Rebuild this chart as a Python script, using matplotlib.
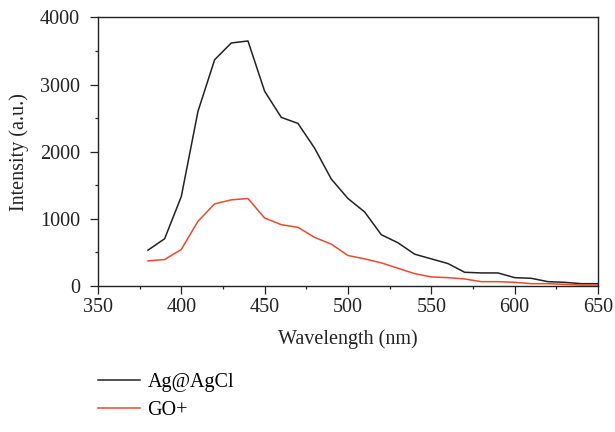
import matplotlib
matplotlib.use('Agg')
import matplotlib.pyplot as plt
from matplotlib.ticker import MultipleLocator

# wavelength (nm)
wavelength = [380, 390, 400, 410, 420, 430, 440, 450, 460, 470, 480, 490, 500,
              510, 520, 530, 540, 550, 560, 570, 580, 590, 600, 610, 620, 630,
              640, 650]

# Ag@AgCl intensity
ag_agcl = [530, 700, 1330, 2600, 3370, 3620, 3650, 2900, 2510, 2420, 2050,
           1590, 1300, 1100, 760, 640, 470, 400, 330, 200, 190, 190, 120, 110,
           60, 50, 30, 30]

# GO+ intensity
go_plus = [370, 390, 540, 960, 1220, 1280, 1300, 1010, 910, 870, 720, 620,
           450, 400, 340, 260, 180, 130, 120, 100, 60, 60, 50, 30, 30, 20, 10,
           10]

plt.rcParams['font.family'] = ['Liberation Serif', 'DejaVu Serif']
FONT_SIZE = 14.5
TXT = '#222222'

fig = plt.figure(figsize=(6.15, 4.32), dpi=100)
ax = fig.add_axes([0.1593, 0.3387, 0.813, 0.6208])

ax.plot(wavelength, ag_agcl, color=TXT, linewidth=1.1, label='Ag@AgCl')
ax.plot(wavelength, go_plus, color='#f0482a', linewidth=1.1, label='GO+')

ax.set_xlim(350, 650)
ax.set_ylim(0, 4000)
ax.xaxis.set_major_locator(MultipleLocator(50))
ax.xaxis.set_minor_locator(MultipleLocator(25))
ax.yaxis.set_major_locator(MultipleLocator(1000))
ax.yaxis.set_minor_locator(MultipleLocator(500))
ax.tick_params(which='major', direction='out', length=6, width=0.9,
               labelsize=FONT_SIZE, colors=TXT)
ax.tick_params(which='minor', direction='out', length=2.5, width=0.9, colors=TXT)
ax.tick_params(axis='x', which='major', pad=3)
ax.tick_params(axis='y', which='major', pad=7)

for s in ax.spines.values():
    s.set_linewidth(1.0)
    s.set_color(TXT)

ax.set_xlabel('Wavelength (nm)', fontsize=FONT_SIZE, color=TXT, labelpad=9)
ax.set_ylabel('Intensity (a.u.)', fontsize=FONT_SIZE, color=TXT, labelpad=8)

ax.legend(loc='upper left', bbox_to_anchor=(0.0, -0.324), frameon=False,
          fontsize=FONT_SIZE, handlelength=2.1, handletextpad=0.35,
          labelspacing=0.45, borderpad=0, borderaxespad=0)

fig.savefig('out.png', dpi=100)
